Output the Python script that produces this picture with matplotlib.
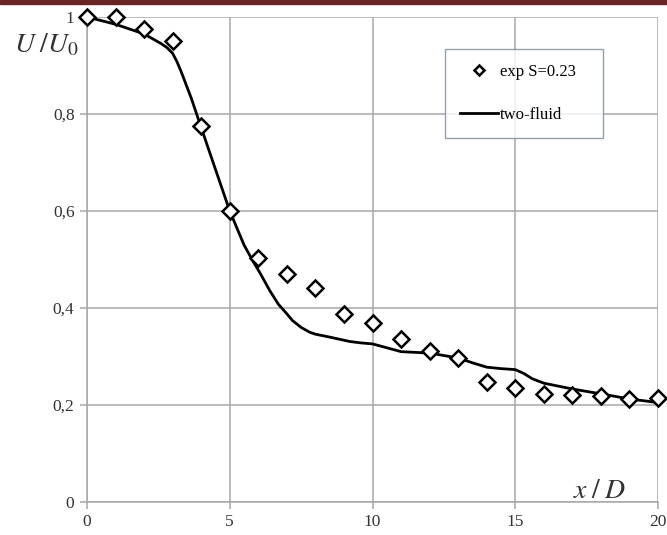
import matplotlib
matplotlib.use("Agg")
import matplotlib.pyplot as plt
from matplotlib.patches import Rectangle
from matplotlib.ticker import FuncFormatter

plt.rcParams["font.family"] = ["Liberation Serif", "DejaVu Serif"]
plt.rcParams["mathtext.fontset"] = "stix"

# experiment, S=0.23
exp_x = [0, 1, 2, 3, 4, 5, 6, 7, 8, 9, 10, 11, 12, 13, 14, 15, 16, 17, 18, 19, 20]
exp_u = [1.0, 0.999, 0.976, 0.951, 0.776, 0.600, 0.504, 0.470, 0.442, 0.387, 0.370,
         0.336, 0.311, 0.296, 0.247, 0.235, 0.223, 0.221, 0.219, 0.213, 0.214]

# two-fluid model
tf_x = [0, 1, 2, 2.6, 2.8, 3, 3.15, 3.3, 3.65, 4, 4.4, 5, 5.5, 5.8, 6.1, 6.4, 6.7,
        7.0, 7.2, 7.5, 7.8, 8.0, 8.5, 9.2, 9.6, 10, 10.5, 11, 12, 13, 13.5, 14,
        14.5, 15, 15.3, 15.6, 16, 17, 18, 19, 20]
tf_u = [1.0, 0.985, 0.965, 0.945, 0.937, 0.925, 0.908, 0.887, 0.833, 0.772, 0.703,
        0.600, 0.530, 0.498, 0.468, 0.436, 0.408, 0.388, 0.374, 0.360, 0.350, 0.346,
        0.340, 0.331, 0.328, 0.326, 0.318, 0.310, 0.307, 0.297, 0.287, 0.278,
        0.275, 0.273, 0.265, 0.254, 0.245, 0.233, 0.223, 0.2125, 0.205]

W, H = 667, 535
fig = plt.figure(figsize=(W / 100, H / 100), dpi=100)
fig.patch.set_facecolor("white")
fig.patches.append(Rectangle((0, 1 - 4 / H), 1, 4 / H, transform=fig.transFigure,
                             color="#6a2424", zorder=0))

ax = fig.add_axes([87 / W, 33 / H, 571 / W, 485 / H])
ax.set_xlim(0, 20)
ax.set_ylim(0, 1)
ax.set_xticks([0, 5, 10, 15, 20])
ax.set_yticks([0, 0.2, 0.4, 0.6, 0.8, 1.0])
ax.yaxis.set_major_formatter(FuncFormatter(lambda v, p: f"{v:g}".replace(".", ",")))
ax.grid(True, color="#a8a8a8", lw=1.1)
ax.set_axisbelow(True)
for s in ("top", "right"):
    ax.spines[s].set_visible(False)
for s in ("left", "bottom"):
    ax.spines[s].set_color("#a8a8a8")
    ax.spines[s].set_linewidth(1.1)
ax.tick_params(length=5, width=1.1, color="#a8a8a8", labelsize=12.5,
               labelcolor="#333333", pad=4)

ax.plot(tf_x, tf_u, color="black", lw=2.0, label="two-fluid", zorder=3,
        solid_joinstyle="round")
ax.plot(exp_x, exp_u, ls="none", marker="D", ms=8, mfc="white", mec="black",
        mew=1.8, label="exp S=0.23", clip_on=False, zorder=4)

handles, labels = ax.get_legend_handles_labels()
leg = ax.legend(handles[::-1], labels[::-1], loc="upper left",
                bbox_to_anchor=(0.627, 0.750, 0.277, 0.184), mode="expand",
                fontsize=12, frameon=True,
                fancybox=False, edgecolor="#7a8898", labelspacing=1.6,
                borderpad=0.9, handlelength=2.3, handletextpad=0.1,
                borderaxespad=0, markerscale=0.7)
leg.get_frame().set_linewidth(1.0)

fig.text(46 / W, 1 - 45 / H, r"$U\;/U_0$", fontsize=20, color="#333333",
         ha="center", va="center")
fig.text(600 / W, 1 - 491 / H, r"$x\;/\;D$", fontsize=20, color="#333333",
         ha="center", va="center")

fig.savefig("out.png", dpi=100)
